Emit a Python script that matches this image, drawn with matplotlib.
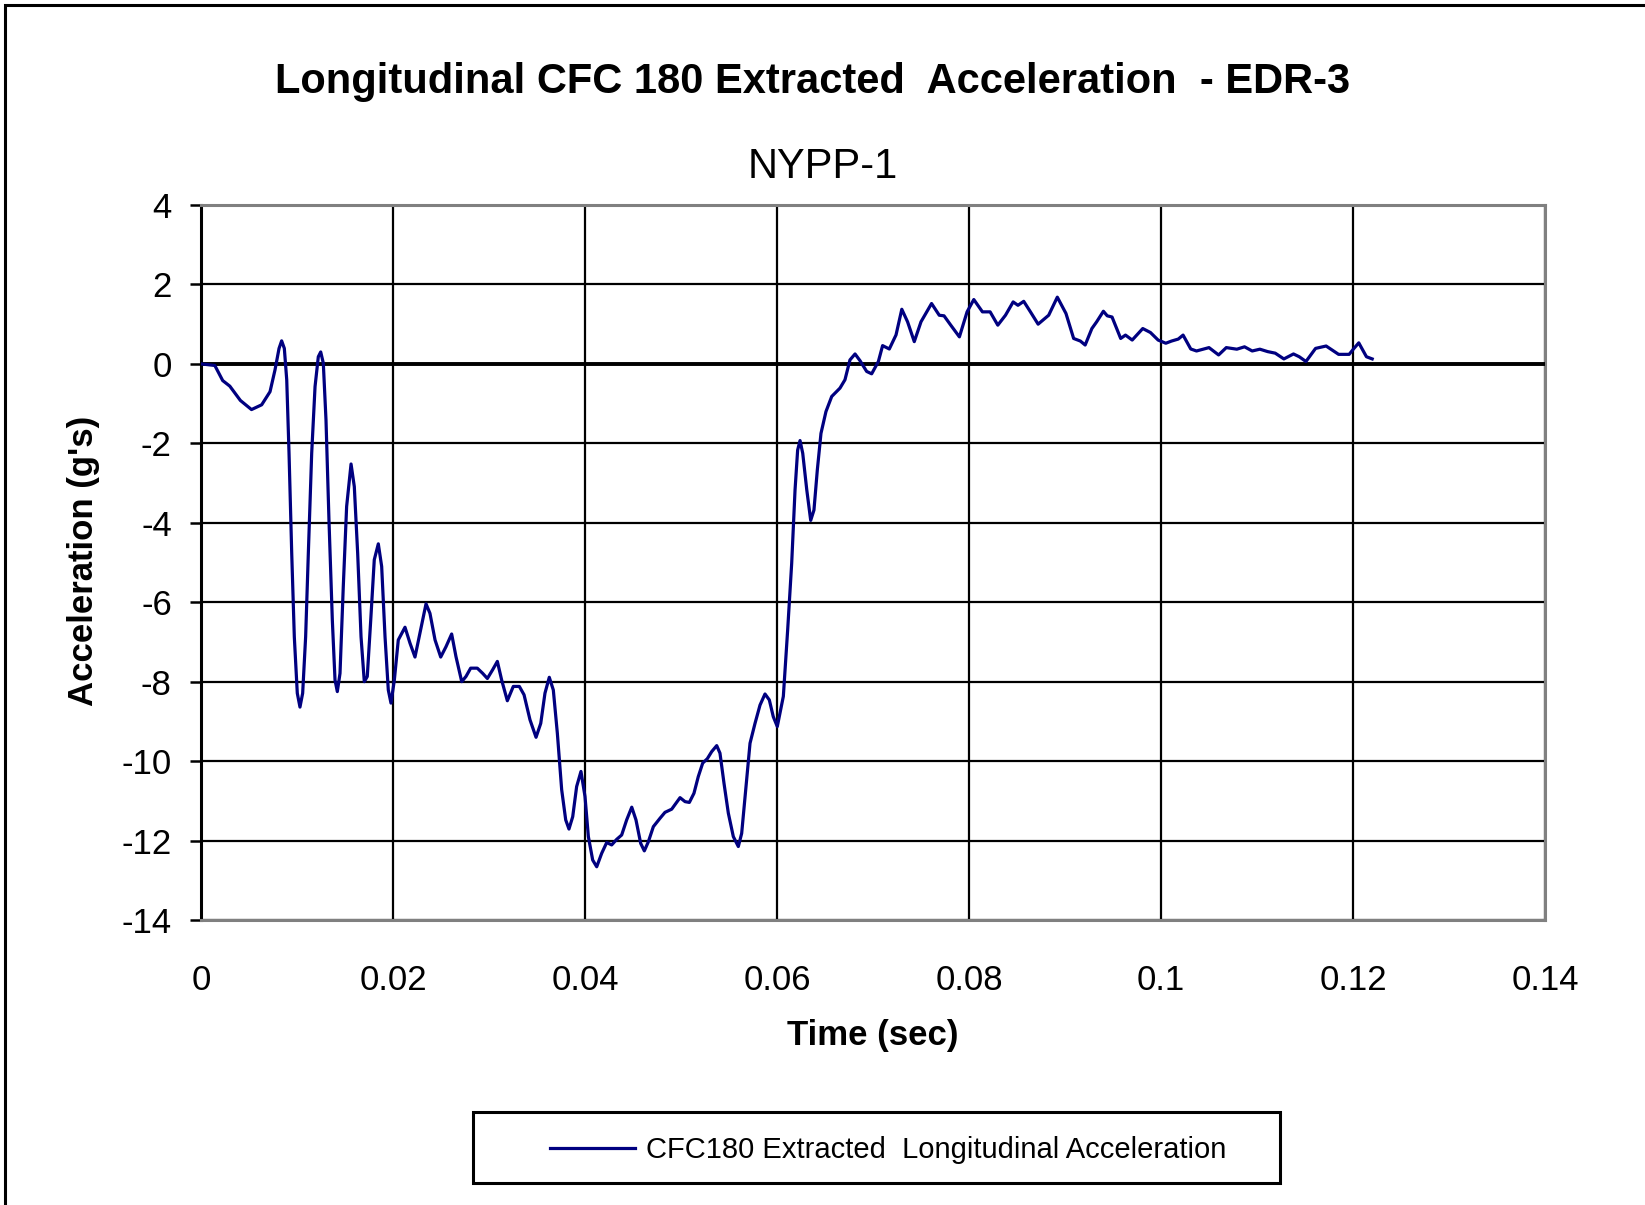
import matplotlib
matplotlib.use('Agg')
from matplotlib import pyplot as plt
from matplotlib.patches import Rectangle

plt.rcParams['font.family'] = ['Liberation Sans', 'DejaVu Sans']
plt.rcParams['axes.unicode_minus'] = False

# CFC 180 longitudinal acceleration
time = [0.0, 0.00144, 0.00226, 0.003, 0.0041, 0.00526, 0.00632, 0.00719, 0.00771,
        0.00813, 0.0084, 0.00868, 0.00893, 0.00917, 0.00945, 0.00972, 0.01003,
        0.01031, 0.01059, 0.0109, 0.01118, 0.01153, 0.01188, 0.01222, 0.01247,
        0.01274, 0.01302, 0.01333, 0.01368, 0.01396, 0.0142, 0.01448, 0.01482,
        0.01517, 0.01563, 0.01597, 0.01632, 0.01667, 0.01701, 0.01732, 0.01768,
        0.01805, 0.01847, 0.01882, 0.01917, 0.01951, 0.01979, 0.02014, 0.02055,
        0.02125, 0.02177, 0.02229, 0.02281, 0.02344, 0.02385, 0.02438, 0.02497,
        0.02552, 0.02611, 0.02656, 0.02716, 0.0276, 0.02809, 0.02878, 0.02934,
        0.02983, 0.03038, 0.03087, 0.03132, 0.03191, 0.03253, 0.03316, 0.03365,
        0.03427, 0.0349, 0.03539, 0.03583, 0.03628, 0.0367, 0.03712, 0.03757,
        0.03799, 0.03833, 0.03872, 0.03913, 0.03958, 0.04, 0.04035, 0.0408,
        0.04122, 0.04174, 0.04226, 0.04278, 0.0433, 0.04382, 0.04434, 0.04487,
        0.04531, 0.0458, 0.04618, 0.0466, 0.04712, 0.04781, 0.04833, 0.04903,
        0.04948, 0.0499, 0.05042, 0.05087, 0.05135, 0.0518, 0.05226, 0.05274,
        0.0532, 0.05372, 0.05406, 0.05448, 0.05493, 0.05545, 0.05597, 0.05632,
        0.05674, 0.05719, 0.05771, 0.05823, 0.05875, 0.0592, 0.05961, 0.06003,
        0.06066, 0.06111, 0.06153, 0.06188, 0.06215, 0.0624, 0.06268, 0.0631,
        0.06351, 0.06385, 0.0642, 0.06458, 0.0651, 0.0657, 0.06656, 0.06708,
        0.0676, 0.06813, 0.06865, 0.06934, 0.06986, 0.07056, 0.071, 0.0717,
        0.0724, 0.073, 0.0736, 0.0743, 0.075, 0.0761, 0.0769, 0.0774, 0.0781,
        0.079, 0.0798, 0.0805, 0.0814, 0.0822, 0.083, 0.0838, 0.0846, 0.0851,
        0.0857, 0.0864, 0.0872, 0.0883, 0.0892, 0.0901, 0.0909, 0.0916, 0.0921,
        0.0928, 0.0933, 0.094, 0.0944, 0.0949, 0.0958, 0.0963, 0.097, 0.0981,
        0.0989, 0.0997, 0.1005, 0.1011, 0.1018, 0.1023, 0.1031, 0.1037, 0.105,
        0.106, 0.1068, 0.1079, 0.1087, 0.1095, 0.1103, 0.1111, 0.1119, 0.1128,
        0.1138, 0.1144, 0.1151, 0.1161, 0.1172, 0.1185, 0.1196, 0.1201, 0.1206,
        0.1214, 0.122]
accel = [0.0, -0.04, -0.42, -0.56, -0.92, -1.15, -1.03, -0.7, -0.15,
         0.39, 0.58, 0.39, -0.4, -2.25, -4.77, -6.87, -8.29,
         -8.64, -8.29, -6.87, -4.77, -2.25, -0.57, 0.18, 0.3,
         0.02, -1.41, -3.93, -6.45, -7.96, -8.25, -7.79, -5.61,
         -3.59, -2.52, -3.09, -4.77, -6.87, -8.0, -7.87, -6.45,
         -4.93, -4.53, -5.1, -6.87, -8.21, -8.54, -7.96, -6.95,
         -6.63, -7.03, -7.38, -6.78, -6.04, -6.28, -6.95, -7.38,
         -7.12, -6.8, -7.37, -8.0, -7.87, -7.66, -7.66, -7.79,
         -7.92, -7.7, -7.49, -7.96, -8.48, -8.12, -8.12, -8.33,
         -8.96, -9.4, -9.05, -8.29, -7.89, -8.21, -9.3, -10.72,
         -11.48, -11.71, -11.4, -10.64, -10.26, -10.89, -11.9, -12.49,
         -12.66, -12.32, -12.05, -12.11, -11.97, -11.86, -11.48, -11.16,
         -11.48, -12.07, -12.26, -12.03, -11.65, -11.44, -11.29, -11.21,
         -11.06, -10.92, -11.02, -11.04, -10.81, -10.39, -10.05, -9.94,
         -9.76, -9.61, -9.8, -10.56, -11.31, -11.9, -12.15, -11.82,
         -10.72, -9.55, -9.05, -8.59, -8.31, -8.46, -8.88, -9.13,
         -8.37, -6.7, -5.02, -3.17, -2.17, -1.93, -2.25, -3.17,
         -3.94, -3.68, -2.67, -1.75, -1.2, -0.82, -0.61, -0.4,
         0.1, 0.25, 0.08, -0.19, -0.25, 0.06, 0.46, 0.375,
         0.73, 1.375, 1.06, 0.56, 1.06, 1.52, 1.225, 1.21, 0.975,
         0.68, 1.31, 1.62, 1.31, 1.31, 0.975, 1.225, 1.56, 1.475,
         1.575, 1.31, 1.0, 1.225, 1.68, 1.27, 0.64, 0.575, 0.475,
         0.89, 1.06, 1.325, 1.21, 1.18, 0.64, 0.725, 0.6, 0.89,
         0.79, 0.6, 0.52, 0.575, 0.625, 0.725, 0.375, 0.325, 0.41,
         0.225, 0.41, 0.37, 0.43, 0.325, 0.37, 0.31, 0.27, 0.125,
         0.25, 0.18, 0.06, 0.39, 0.45, 0.24, 0.24, 0.39, 0.53,
         0.18, 0.125]

xticks = [0, 0.02, 0.04, 0.06, 0.08, 0.1, 0.12, 0.14]
xticklabels = ['0', '0.02', '0.04', '0.06', '0.08', '0.1', '0.12', '0.14']
yticks = [-14, -12, -10, -8, -6, -4, -2, 0, 2, 4]

W, H = 1645, 1205
fig = plt.figure(figsize=(W / 100, H / 100), dpi=100)
fig.patch.set_facecolor('white')

# outer chart frame (only left/top edges visible in the source)
fig.patches.append(Rectangle((5 / W, -0.1), 1.2, 1.1 - 5 / H, transform=fig.transFigure,
                             fill=False, edgecolor='black', lw=2.2, zorder=0))

ax = fig.add_axes([201 / W, 1 - 920 / H, (1545 - 201) / W, (920 - 205) / H])
ax.plot(time, accel, color='#000080', lw=2.3, zorder=4, solid_joinstyle='round',
        label='CFC180 Extracted  Longitudinal Acceleration')
ax.axhline(0, color='black', lw=2.8, zorder=3)

ax.set_xlim(0, 0.14)
ax.set_ylim(-14, 4)
ax.set_xticks(xticks)
ax.set_xticklabels(xticklabels)
ax.set_yticks(yticks)
ax.grid(True, color='black', lw=1.6, zorder=2)
ax.set_axisbelow(True)

for side in ['top', 'right', 'bottom']:
    ax.spines[side].set_color('#808080')
    ax.spines[side].set_linewidth(2.2)
ax.spines['left'].set_color('black')
ax.spines['left'].set_linewidth(2.2)

ax.tick_params(axis='y', direction='out', length=8, width=1.8, labelsize=25, pad=13)
ax.tick_params(axis='x', length=0, labelsize=25, pad=32)

fig.text(813 / W, 1 - 82 / H, 'Longitudinal CFC 180 Extracted  Acceleration  - EDR-3',
         ha='center', va='center', fontsize=30, fontweight='bold')
fig.text(823 / W, 1 - 167 / H, 'NYPP-1', ha='center', va='center', fontsize=30)
fig.text(873 / W, 1 - 1035 / H, 'Time (sec)', ha='center', va='center',
         fontsize=25, fontweight='bold')
fig.text(84 / W, 1 - 561 / H, "Acceleration (g's)", ha='center', va='center',
         rotation=90, fontsize=25, fontweight='bold')

# legend box
fig.patches.append(Rectangle((473 / W, 1 - 1183 / H), 807 / W, 71 / H,
                             transform=fig.transFigure, fill=False,
                             edgecolor='black', lw=2.2))
fig.legend(loc='center left', bbox_to_anchor=(550 / W, 1 - 1150 / H), frameon=False,
           fontsize=21, handlelength=2.9, handletextpad=0.4, borderpad=0,
           borderaxespad=0)

fig.savefig('out.png', dpi=100)
